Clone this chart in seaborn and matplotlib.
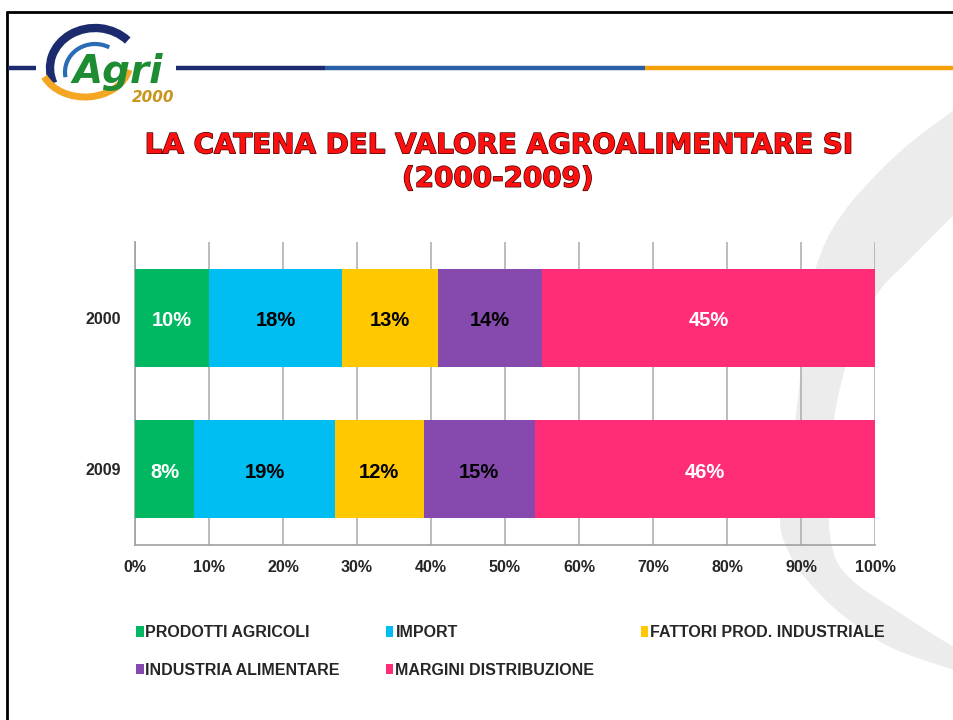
import matplotlib
matplotlib.use("Agg")
import matplotlib.pyplot as plt
import matplotlib.patheffects as pe
from matplotlib.patches import Arc, Patch, Polygon
import seaborn as sns
import pandas as pd
import numpy as np

# ---- data ----
years = ["2000", "2009"]
categories = ["PRODOTTI AGRICOLI", "IMPORT", "FATTORI PROD. INDUSTRIALE",
              "INDUSTRIA ALIMENTARE", "MARGINI DISTRIBUZIONE"]
values_2000 = [10, 18, 13, 14, 45]
values_2009 = [8, 19, 12, 15, 46]
colors = ["#00b862", "#00bef2", "#ffc800", "#8649ae", "#ff2c78"]
label_colors = ["white", "black", "black", "black", "white"]
xticks = [0, 10, 20, 30, 40, 50, 60, 70, 80, 90, 100]
title = "LA CATENA DEL VALORE AGROALIMENTARE SI\n(2000-2009)"

sns.set_theme(style="white")
plt.rcParams['font.family'] = ['Liberation Sans', 'DejaVu Sans']

fig = plt.figure(figsize=(9.54, 7.2), dpi=100)
fig.patch.set_facecolor("white")


def smooth(pts, n=12):
    pts = np.asarray(pts, float)
    p = np.vstack([pts[0], pts, pts[-1]])
    out = []
    for i in range(1, len(p) - 2):
        p0, p1, p2, p3 = p[i - 1], p[i], p[i + 1], p[i + 2]
        for t in np.linspace(0, 1, n, endpoint=False):
            t2, t3 = t * t, t * t * t
            out.append(0.5 * ((2 * p1) + (-p0 + p2) * t + (2 * p0 - 5 * p1 + 4 * p2 - p3) * t2
                              + (-p0 + 3 * p1 - 3 * p2 + p3) * t3))
    out.append(p[-2])
    return np.array(out)


# ---- background decoration (pixel coordinates) ----
bg = fig.add_axes([0, 0, 1, 1], zorder=0)
bg.set_xlim(0, 954)
bg.set_ylim(720, 0)
bg.axis("off")
outer = [(965, 100), (954, 110), (910, 143), (873, 178), (843, 213), (823, 248),
         (808, 300), (800, 380), (790, 460), (780, 520), (790, 555), (807, 580),
         (840, 613), (890, 647), (954, 670), (965, 673)]
inner = [(965, 650), (954, 647), (900, 613), (852, 580), (832, 547), (828, 480),
         (834, 420), (842, 380), (857, 330), (880, 290), (907, 262), (954, 215), (965, 208)]
crescent = np.vstack([smooth(outer), smooth(inner)])
bg.add_patch(Polygon(crescent, closed=True, facecolor="#ececec", edgecolor="none"))
# frame
bg.plot([7, 954], [12, 12], color="black", lw=2)
bg.plot([7, 7], [12, 720], color="black", lw=2)
# header line
bg.plot([8, 36], [68, 68], color="#1c2a6e", lw=3.2, solid_capstyle="butt")
bg.plot([176, 325], [68, 68], color="#1c2a6e", lw=3.2, solid_capstyle="butt")
bg.plot([325, 645], [68, 68], color="#2a5fa6", lw=3.2, solid_capstyle="butt")
bg.plot([645, 954], [68, 68], color="#f5a20a", lw=3.2, solid_capstyle="butt")
# logo
bg.add_patch(Arc((95, 68), 90, 80, theta1=160, theta2=320, color="#1c2a6e", lw=6))
bg.add_patch(Arc((95, 72), 60, 56, theta1=170, theta2=300, color="#2a6db5", lw=3))
bg.add_patch(Arc((85, 62), 90, 70, theta1=10, theta2=160, color="#f5a623", lw=5))
bg.text(118, 72, "Agri", color="#1e8c32", fontsize=28, fontweight="bold",
        fontstyle="italic", ha="center", va="center", family="DejaVu Sans")
bg.text(153, 97, "2000", color="#c8961e", fontsize=11, fontweight="bold",
        fontstyle="italic", ha="center", va="center", family="DejaVu Sans")

# title
bg.text(498, 162, title, color="#ff1010", fontsize=20, fontweight="bold",
        ha="center", va="center", linespacing=1.25, family="DejaVu Sans",
        path_effects=[pe.withStroke(linewidth=1.0, foreground="#400000")])

# ---- chart ----
ax = fig.add_axes([135 / 954, 175 / 720, 740 / 954, 303 / 720], zorder=2)
ax.patch.set_alpha(0)

df = pd.DataFrame({"year": years})
for cat, v0, v9 in zip(categories, values_2000, values_2009):
    df[cat] = [v0, v9]
cum = df[categories].cumsum(axis=1)
cum["year"] = df["year"]

for i in range(len(categories) - 1, -1, -1):
    sns.barplot(data=cum, x=categories[i], y="year", orient="h", color=colors[i],
                width=0.645, ax=ax, saturation=1, edgecolor="none", linewidth=0, zorder=3)

for row in range(len(years)):
    left = 0
    for i, cat in enumerate(categories):
        v = df[cat].iloc[row]
        ax.text(left + v / 2, row + 0.02, f"{v}%", ha="center", va="center",
                color=label_colors[i], fontsize=14.5, fontweight="bold", zorder=5)
        left += v

ax.set_xlim(0, 100)
ax.set_ylim(1.5, -0.5)
ax.set_xticks(xticks)
ax.set_xticklabels([f"{t}%" for t in xticks], fontsize=11.5, fontweight="bold")
ax.tick_params(axis="x", pad=11, length=0)
ax.tick_params(axis="y", pad=10, length=0)
for lab in ax.get_yticklabels():
    lab.set_fontsize(11.5)
    lab.set_fontweight("bold")
ax.set_xlabel("")
ax.set_ylabel("")
ax.xaxis.grid(True, color="#b0b0b0", lw=1.2, zorder=0)
ax.set_axisbelow(True)
for s in ["top", "right"]:
    ax.spines[s].set_visible(False)
for s in ["left", "bottom"]:
    ax.spines[s].set_color("#a0a0a0")
    ax.spines[s].set_linewidth(1.2)

# ---- legend ----
handles = [Patch(facecolor=c, edgecolor="none", label=l) for c, l in zip(colors, categories)]
order = [0, 3, 1, 4, 2]
leg = fig.legend([handles[i] for i in order], [categories[i] for i in order],
                 ncol=3, loc="upper left", bbox_to_anchor=(122 / 954, 1 - 611 / 720),
                 frameon=False, handlelength=0.45, handleheight=0.65, handletextpad=0.12,
                 columnspacing=2.9, labelspacing=1.4,
                 prop={"weight": "bold", "size": 11.5})

fig.savefig("out.png", dpi=100, facecolor="white")
